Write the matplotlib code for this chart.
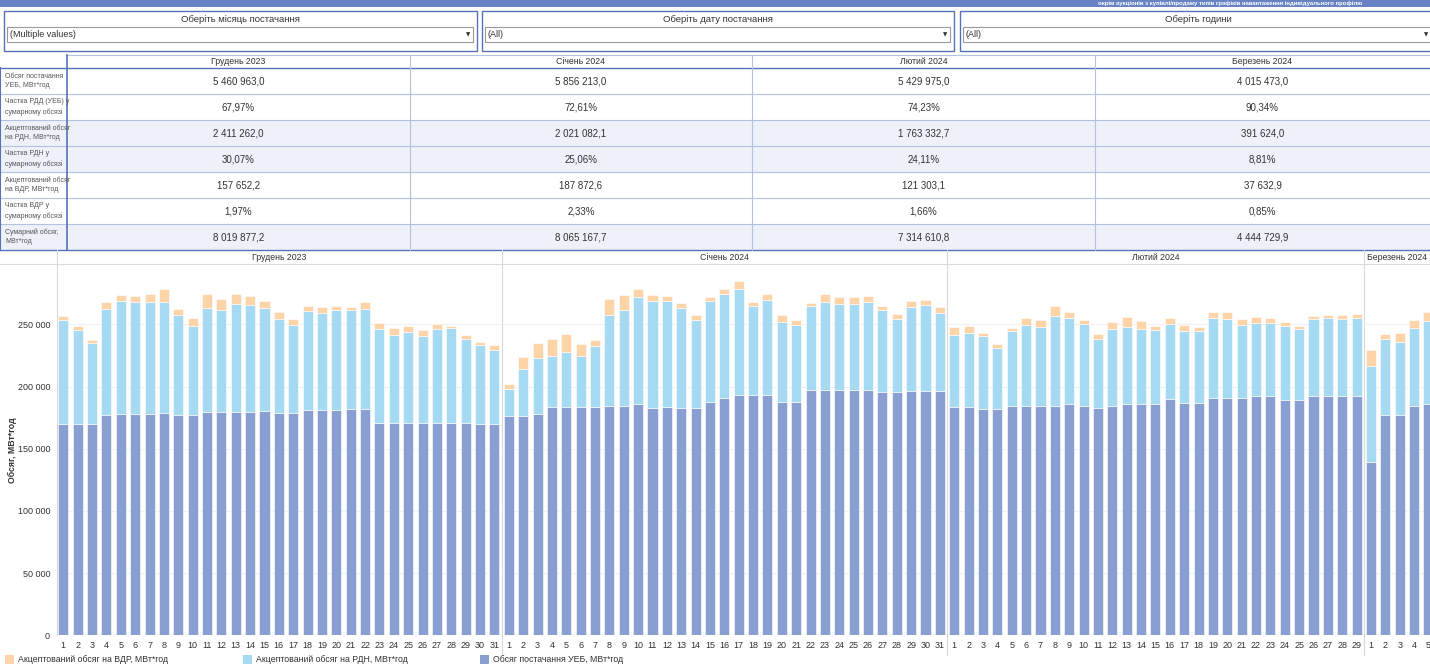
import numpy as np
import matplotlib
matplotlib.use('Agg')
import matplotlib.pyplot as plt
from matplotlib.patches import Rectangle
from matplotlib.ticker import FuncFormatter, MultipleLocator

plt.rcParams['font.family'] = ['Liberation Sans Narrow', 'Liberation Sans', 'DejaVu Sans']

# ---------------- data ----------------
months = ['Грудень 2023', 'Січень 2024', 'Лютий 2024', 'Березень 2024']
days_shown = [31, 31, 29, 5]

# daily values, thousand MWh
ueb_dec = [169.6, 169.6, 169.6, 177.1, 177.9, 177.9, 177.9, 179.0, 177.1, 177.1,
           179.5, 179.5, 179.5, 179.5, 180.0, 179.0, 179.0, 180.8, 180.8, 180.8,
           181.6, 181.6, 170.4, 170.4, 170.4, 170.9, 170.9, 170.9, 170.9, 169.8, 169.8]
rdn_dec = [83.6, 76.1, 65.1, 85.5, 90.6, 90.1, 90.1, 89.0, 80.7, 71.8,
           83.9, 82.0, 87.1, 86.0, 82.9, 75.3, 70.2, 80.2, 78.0, 81.0,
           80.2, 80.7, 75.6, 71.0, 73.7, 70.0, 75.1, 76.4, 67.6, 63.8, 59.8]
vdr_dec = [3.5, 2.7, 2.4, 5.4, 4.8, 4.8, 6.7, 10.2, 4.3, 6.5,
           11.3, 8.6, 8.1, 7.3, 5.9, 5.6, 5.1, 4.0, 5.1, 2.7,
           2.1, 5.7, 4.8, 5.4, 4.6, 4.5, 4.3, 1.6, 3.2, 2.2, 3.5]

ueb_jan = [176.0, 176.0, 177.9, 183.8, 183.8, 183.8, 183.8, 184.3, 184.3, 186.2,
           182.7, 183.5, 182.7, 182.7, 187.3, 190.8, 193.4, 193.4, 193.4, 187.5,
           187.5, 196.9, 196.9, 196.9, 196.9, 196.9, 195.6, 195.6, 196.4, 196.4, 196.4]
rdn_jan = [22.0, 38.3, 45.0, 40.7, 44.2, 40.7, 48.5, 73.5, 77.5, 86.1,
           85.8, 85.0, 80.7, 71.1, 81.2, 83.3, 84.8, 71.3, 76.2, 64.4,
           62.2, 67.6, 71.1, 69.7, 69.7, 71.1, 66.2, 59.0, 67.5, 69.1, 62.4]
vdr_jan = [4.0, 9.2, 11.8, 14.0, 14.5, 9.7, 5.4, 12.3, 11.5, 6.4,
           4.8, 4.3, 3.5, 4.0, 3.5, 4.1, 6.6, 3.3, 4.5, 5.9,
           3.5, 2.4, 6.1, 5.4, 5.4, 4.8, 3.2, 3.7, 4.6, 4.3, 4.9]

ueb_feb = [183.5, 183.5, 182.2, 182.2, 184.0, 184.6, 184.6, 184.6, 185.9, 184.0,
           182.9, 184.6, 185.7, 185.7, 185.7, 189.7, 186.7, 186.7, 190.8, 190.8,
           190.8, 192.2, 192.2, 189.3, 189.3, 192.2, 192.2, 192.2, 192.2]
rdn_feb = [57.9, 59.5, 58.7, 49.0, 60.4, 64.6, 63.5, 72.4, 69.5, 66.5,
           55.3, 61.9, 62.2, 60.3, 59.7, 60.8, 57.7, 57.7, 64.0, 63.5,
           58.4, 59.1, 59.1, 59.6, 57.2, 62.1, 62.6, 62.1, 63.2]
vdr_feb = [6.5, 5.4, 2.4, 3.2, 2.9, 5.9, 5.4, 8.0, 4.8, 3.0,
           4.3, 5.4, 7.7, 6.4, 3.5, 4.6, 5.1, 3.7, 5.1, 5.6,
           5.1, 4.9, 3.8, 3.0, 2.4, 2.7, 2.7, 3.2, 3.2]

ueb_mar = [139.2, 176.8, 176.8, 184.6, 185.7]
rdn_mar = [77.3, 61.1, 59.0, 62.5, 66.7]
vdr_mar = [12.6, 4.1, 7.2, 6.7, 7.5]

# summary table
row_labels = ['Обсяг постачання\nУЕБ, МВт*год',
              'Частка РДД (УЕБ) у\nсумарному обсязі',
              'Акцептований обсяг\nна РДН, МВт*год',
              'Частка РДН у\nсумарному обсязі',
              'Акцептований обсяг\nна ВДР, МВт*год',
              'Частка ВДР у\nсумарному обсязі',
              'Сумарний обсяг,\nМВт*год']
tab_dec = ['5 460 963,0', '67,97%', '2 411 262,0', '30,07%', '157 652,2', '1,97%', '8 019 877,2']
tab_jan = ['5 856 213,0', '72,61%', '2 021 082,1', '25,06%', '187 872,6', '2,33%', '8 065 167,7']
tab_feb = ['5 429 975,0', '74,23%', '1 763 332,7', '24,11%', '121 303,1', '1,66%', '7 314 610,8']
tab_mar = ['4 015 473,0', '90,34%', '391 624,0', '8,81%', '37 632,9', '0,85%', '4 444 729,9']

filter_titles = ['Оберіть місяць постачання', 'Оберіть дату постачання', 'Оберіть години']
filter_values = ['(Multiple values)', '(All)', '(All)']

legend_labels = ['Акцептований обсяг на ВДР, МВт*год',
                 'Акцептований обсяг на РДН, МВт*год',
                 'Обсяг постачання УЕБ, МВт*год']
banner_text = 'окрім аукціонів з купівлі/продажу типів графіків навантаження індивідуального профілю'

# ---------------- styles ----------------
C_UEB = '#8a9fd1'
C_RDN = '#a6daf2'
C_VDR = '#fdd3a8'
C_BLUE = '#5672b8'
C_LINE = '#b4c2e2'
TXT = '#333333'

W, H = 1430, 665
fig = plt.figure(figsize=(W / 100, H / 100), dpi=100)
fig.patch.set_facecolor('white')

bg = fig.add_axes([0, 0, 1, 1])
bg.set_xlim(0, W)
bg.set_ylim(H, 0)
bg.axis('off')

# top banner
bg.add_patch(Rectangle((0, 0), W, 7, facecolor='#6783c3', edgecolor='none'))
bg.text(1230, 3.3, banner_text, color='white', fontsize=4.3, ha='center', va='center',
        fontweight='bold')

# filter boxes
boxes = [(4, 477), (482, 954), (960, 1436)]
for (x0, x1), t, v in zip(boxes, filter_titles, filter_values):
    bg.add_patch(Rectangle((x0, 11), x1 - x0, 40, fill=False, edgecolor=C_BLUE, lw=1.0))
    bg.text((x0 + x1) / 2, 19, t, fontsize=6.8, ha='center', va='center', color=TXT)
    bg.add_patch(Rectangle((x0 + 3, 27), x1 - x0 - 7, 15, facecolor='white',
                           edgecolor='#9a9a9a', lw=0.8))
    bg.text(x0 + 6, 34.8, v, fontsize=6.5, ha='left', va='center', color=TXT)
    ax_x = min(x1 - 9, 1426)
    bg.text(ax_x, 34.5, '▼', fontsize=4, ha='center', va='center', color='#333333',
            family=['DejaVu Sans'])

# summary table
col_edges = [67, 410, 752, 1095, 1436]
row_edges = [68, 94, 120, 146, 172, 198, 224, 250]
shaded = [2, 3, 6]
for i in shaded:
    bg.add_patch(Rectangle((0, row_edges[i]), W, row_edges[i + 1] - row_edges[i],
                           facecolor='#eef1f9', edgecolor='none'))
for y in row_edges[1:-1]:
    bg.plot([0, W], [y, y], color=C_LINE, lw=0.8)
bg.plot([67, W], [55, 55], color=C_LINE, lw=0.8)
bg.plot([0, W], [68, 68], color=C_BLUE, lw=1.0)
bg.plot([0, W], [250, 250], color=C_BLUE, lw=1.0)
bg.plot([0, 0], [68, 250], color=C_BLUE, lw=1.5)
bg.plot([67, 67], [55, 250], color=C_BLUE, lw=1.2)
for x in col_edges[1:-1]:
    bg.plot([x, x], [55, 250], color=C_LINE, lw=0.8)
cols = [tab_dec, tab_jan, tab_feb, tab_mar]
for j, (m, colvals) in enumerate(zip(months, cols)):
    xc = (col_edges[j] + min(col_edges[j + 1], W)) / 2
    bg.text(xc, 61.5, m, fontsize=6.3, ha='center', va='center', color=TXT)
    for i, v in enumerate(colvals):
        yc = (row_edges[i] + row_edges[i + 1]) / 2
        bg.text(xc, yc, v, fontsize=7, ha='center', va='center', color=TXT)
for i, lab in enumerate(row_labels):
    yc = (row_edges[i] + row_edges[i + 1]) / 2
    bg.text(5, yc, lab, fontsize=5.0, ha='left', va='center', color='#555555',
            linespacing=1.5)

# ---------------- chart ----------------
ueb = np.array(ueb_dec + ueb_jan + ueb_feb + ueb_mar) * 1000
rdn = np.array(rdn_dec + rdn_jan + rdn_feb + rdn_mar) * 1000
vdr = np.array(vdr_dec + vdr_jan + vdr_feb + vdr_mar) * 1000
day_labels = [str(d) for n in days_shown for d in range(1, n + 1)]
x = np.arange(len(ueb))

ax_left, ax_right, ax_top, ax_bot = 57, W, 265, 635.3
ax = fig.add_axes([ax_left / W, (H - ax_bot) / H, (ax_right - ax_left) / W, (ax_bot - ax_top) / H])
ax.set_facecolor('none')

bw = 0.7
ax.bar(x, ueb, width=bw, color=C_UEB, edgecolor='white', linewidth=0.4, zorder=3)
ax.bar(x, rdn, width=bw, bottom=ueb, color=C_RDN, edgecolor='white', linewidth=0.4, zorder=3)
ax.bar(x, vdr, width=bw, bottom=ueb + rdn, color=C_VDR, edgecolor='white', linewidth=0.4, zorder=3)

x_left = -0.44
x_right = x_left + (ax_right - ax_left) / 14.37
ax.set_xlim(x_left, x_right)
ax.set_ylim(0, 297700)
ax.yaxis.set_major_locator(MultipleLocator(50000))
ax.yaxis.set_major_formatter(FuncFormatter(lambda v, p: f'{v:,.0f}'.replace(',', ' ')))
ax.grid(axis='y', color='#f0f0f0', lw=0.8, zorder=0)
ax.set_xticks(x)
ax.set_xticklabels(day_labels)
ax.tick_params(axis='x', length=0, pad=4, labelsize=6.5, labelcolor=TXT)
ax.tick_params(axis='y', length=0, pad=5, labelsize=6.5, labelcolor=TXT)
for s in ['top', 'right', 'bottom']:
    ax.spines[s].set_visible(False)
ax.spines['left'].set_color('#d9d9d9')
ax.spines['left'].set_linewidth(0.8)

# month header band and separators (in pixel space)
bg.plot([0, W], [264, 264], color='#d9d9d9', lw=0.8)
starts = np.cumsum([0] + days_shown[:-1])
px_per_day = (ax_right - ax_left) / (x_right - x_left)
def to_px(v):
    return ax_left + (v - x_left) * px_per_day
bounds = [x_left] + [s - 0.5 for s in starts[1:]] + [x_right]
for k, m in enumerate(months):
    a, b = to_px(bounds[k]), to_px(bounds[k + 1])
    bg.text((a + b) / 2, 257, m, fontsize=6.3, ha='center', va='center', color=TXT)
    if k > 0:
        bg.plot([a, a], [250, 655], color='#d9d9d9', lw=0.8)
bg.plot([ax_left, ax_left], [250, 265], color='#d9d9d9', lw=0.8)

# y label
bg.text(12, 450, 'Обсяг, МВт*год', rotation=90, fontsize=6.3, ha='center', va='center',
        color=TXT, fontweight='bold')

# legend
leg_x = [5, 243, 480]
for lx, col, lab in zip(leg_x, [C_VDR, C_RDN, C_UEB], legend_labels):
    bg.add_patch(Rectangle((lx, 655), 9, 9, facecolor=col, edgecolor='none'))
    bg.text(lx + 13, 660, lab, fontsize=6.3, ha='left', va='center', color=TXT)

fig.savefig('out.png', dpi=100)
